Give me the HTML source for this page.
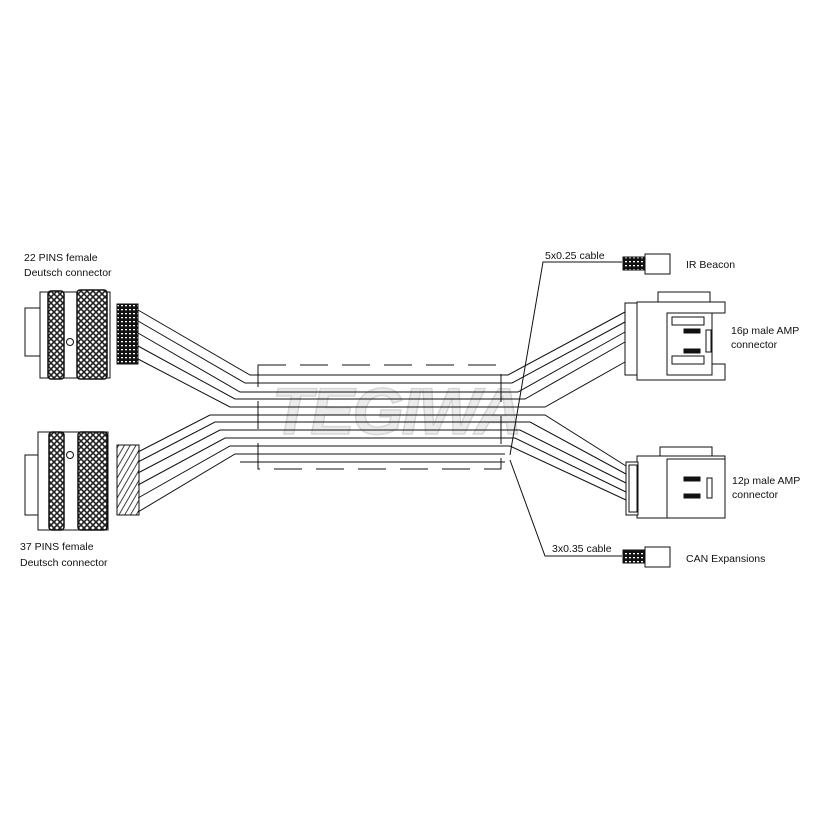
<!DOCTYPE html>
<html><head><style>
html,body{margin:0;padding:0;background:#fff;}
svg{display:block;}
text{font-family:"Liberation Sans",Arial,sans-serif;font-size:10.5px;fill:#111;}
</style></head><body>
<svg width="825" height="825" viewBox="0 0 825 825" xmlns="http://www.w3.org/2000/svg">
<defs>
<pattern id="knurl" width="6" height="6" patternUnits="userSpaceOnUse">
<rect width="6" height="6" fill="#fff"/>
<path d="M0 0 L6 6 M6 0 L0 6" stroke="#222" stroke-width="1.6"/>
</pattern>
<pattern id="fine" width="4" height="4" patternUnits="userSpaceOnUse">
<rect width="4" height="4" fill="#111"/>
<rect x="1" y="1" width="2" height="1.3" fill="#fff"/>
</pattern>
<pattern id="hatch" width="5" height="5" patternUnits="userSpaceOnUse" patternTransform="rotate(30)">
<rect width="5" height="5" fill="#fff"/>
<line x1="0" y1="0" x2="0" y2="5" stroke="#111" stroke-width="1.6"/>
</pattern>
</defs>

<!-- watermark -->
<text x="272" y="434" style="font-size:66px;font-style:italic;font-weight:bold;fill:#ececec;stroke:#d6d6d6;stroke-width:1.5;letter-spacing:-2px">TEGIWA</text>

<g fill="none" stroke="#111" stroke-width="1">
<!-- Top connector -->
<rect x="25" y="308" width="18" height="48" fill="#fff"/>
<rect x="40" y="292" width="70" height="86" fill="#fff"/>
<rect x="48" y="291" width="16" height="88" rx="3" fill="url(#knurl)" stroke-width="1.5"/>
<rect x="77" y="290" width="30" height="89" rx="3" fill="url(#knurl)" stroke-width="1.5"/>
<circle cx="70" cy="342" r="3.5"/>
<rect x="117" y="304" width="21" height="60" fill="url(#fine)"/>
<!-- Bottom connector -->
<rect x="25" y="455" width="18" height="60" fill="#fff"/>
<rect x="38" y="432" width="70" height="98" fill="#fff"/>
<rect x="49" y="432" width="15" height="98" rx="3" fill="url(#knurl)" stroke-width="1.5"/>
<rect x="78" y="432" width="29" height="98" rx="3" fill="url(#knurl)" stroke-width="1.5"/>
<circle cx="70" cy="455" r="3.5"/>
<rect x="117" y="445" width="22" height="70" fill="url(#hatch)"/>

<!-- dashed box -->
<rect x="258" y="365" width="243" height="104" stroke-dasharray="28,14"/>

<!-- wires top -->
<polyline points="138,310 250,375 508,375 625,312"/>
<polyline points="138,321 245,383 512,383 625,322"/>
<polyline points="138,333 240,392 518,392 625,332"/>
<polyline points="138,346 235,399 525,399 625,342"/>
<polyline points="138,359 230,407 545,407 625,362"/>
<!-- wires bottom -->
<polyline points="138,452 210,415 545,415 626,466"/>
<polyline points="138,462 215,422 530,422 626,474"/>
<polyline points="138,473 220,430 520,430 626,483"/>
<polyline points="138,485 225,438 515,438 626,492"/>
<polyline points="138,498 230,446 510,446 626,500"/>
<polyline points="138,512 235,454 505,454"/>
<polyline points="240,462 505,462"/>

<!-- leaders -->
<polyline points="510,455 543,262 622,262"/>
<polyline points="510,460 545,556 622,556"/>

<!-- IR beacon -->
<rect x="623" y="257" width="22" height="13" fill="url(#fine)"/>
<rect x="645" y="254" width="25" height="20" fill="#fff"/>
<!-- CAN -->
<rect x="623" y="550" width="22" height="13" fill="url(#fine)"/>
<rect x="645" y="547" width="25" height="20" fill="#fff"/>

<!-- 16p connector -->
<rect x="658" y="292" width="52" height="10" fill="#fff"/>
<rect x="625" y="303" width="12" height="72" fill="#fff"/>
<polygon points="637,302 725,302 725,313 712,313 712,364 725,364 725,380 637,380" fill="#fff"/>
<rect x="667" y="313" width="45" height="62"/>
<rect x="672" y="317" width="32" height="8"/>
<rect x="672" y="356" width="32" height="8"/>
<rect x="684" y="329" width="16" height="4" fill="#111"/>
<rect x="684" y="349" width="16" height="4" fill="#111"/>
<rect x="706" y="330" width="5" height="22"/>
<!-- 12p connector -->
<rect x="660" y="447" width="52" height="9" fill="#fff"/>
<polygon points="637,456 725,456 725,518 637,518" fill="#fff"/>
<rect x="626" y="462" width="12" height="53" fill="#fff"/>
<rect x="629" y="465" width="8" height="47"/>
<rect x="667" y="459" width="58" height="59"/>
<rect x="684" y="477" width="16" height="4" fill="#111"/>
<rect x="684" y="494" width="16" height="4" fill="#111"/>
<rect x="707" y="478" width="5" height="20"/>
</g>

<text x="24" y="261">22 PINS female</text>
<text x="24" y="276">Deutsch connector</text>
<text x="20" y="550">37 PINS female</text>
<text x="20" y="566">Deutsch connector</text>
<text x="545" y="259">5x0.25 cable</text>
<text x="552" y="552">3x0.35 cable</text>
<text x="686" y="268">IR Beacon</text>
<text x="686" y="562">CAN Expansions</text>
<text x="731" y="334">16p male AMP</text>
<text x="731" y="348">connector</text>
<text x="732" y="484">12p male AMP</text>
<text x="732" y="498">connector</text>
</svg>
</body></html>
